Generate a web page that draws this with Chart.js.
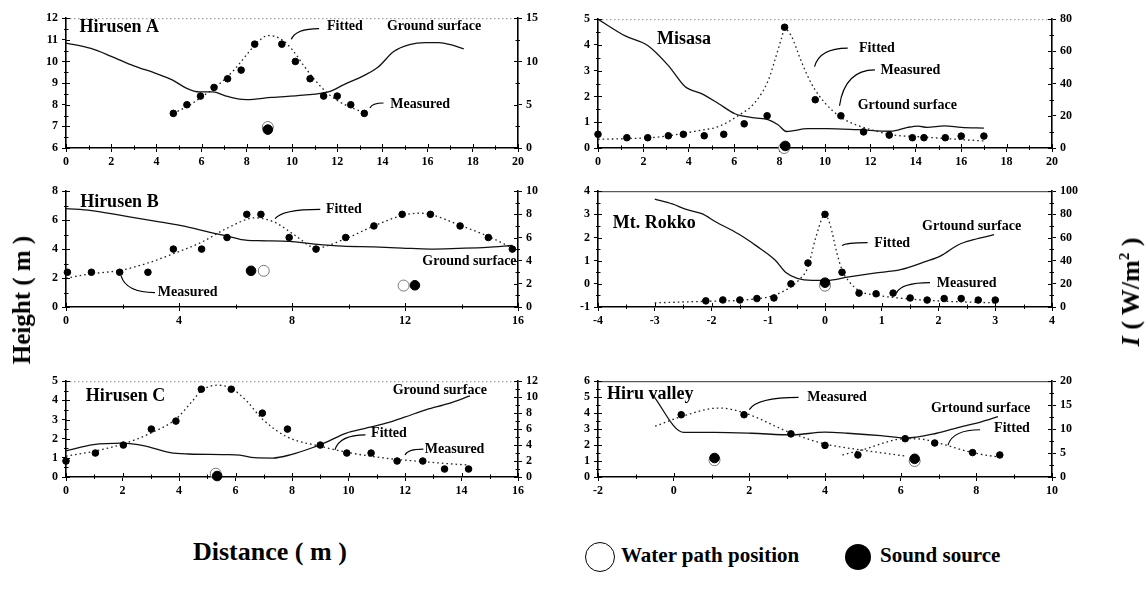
<!DOCTYPE html>
<html><head><meta charset="utf-8">
<script src="https://cdn.jsdelivr.net/npm/chart.js@4"></script>
<style>
body{margin:0;width:1148px;height:590px;background:#fff;position:relative;overflow:hidden;font-family:"Liberation Serif","DejaVu Serif",serif;font-weight:bold;color:#000;}
canvas{position:absolute;}
.t{position:absolute;white-space:nowrap;font-weight:bold;}
.rot{transform-origin:center center;transform:translate(-50%,-50%) rotate(-90deg);}
.circ{position:absolute;border-radius:50%;box-sizing:border-box;}
</style></head><body>
<canvas id="cA"></canvas><canvas id="cB"></canvas><canvas id="cC"></canvas>
<canvas id="cM"></canvas><canvas id="cR"></canvas><canvas id="cH"></canvas>

<div class="t rot" style="left:22px;top:300px;font-size:25px;">Height ( m )</div>
<div class="t rot" style="left:1131px;top:292px;font-size:26px;"><i>I</i> ( W/m<sup style="font-size:15px">2</sup> )</div>
<div class="t" style="left:193px;top:537px;font-size:26px;">Distance ( m )</div>
<div class="circ" style="left:585px;top:542px;width:30px;height:30px;border:1.5px solid #000;"></div>
<div class="t" style="left:621px;top:543px;font-size:21px;">Water path position</div>
<div class="circ" style="left:845px;top:544px;width:26px;height:26px;background:#000;"></div>
<div class="t" style="left:880px;top:543px;font-size:21px;">Sound source</div>

<script>
// ---------------- DATA ----------------
// Hirusen A
const hirusenA_ground = [[0,10.85],[1.1,10.6],[2,10.24],[3,9.8],[4,9.44],[4.7,9.15],[5.3,8.78],[5.9,8.59],[6.5,8.59],[7.05,8.41],[7.6,8.27],[8,8.24],[9.1,8.34],[10.5,8.44],[11.6,8.59],[12.3,8.93],[13.2,9.36],[13.8,9.73],[14.5,10.46],[15.2,10.78],[15.9,10.87],[16.5,10.87],[17.1,10.75],[17.6,10.58]];
const hirusenA_measured = [[4.75,4],[5.35,5],[5.95,6],[6.55,7],[7.15,8],[7.75,9],[8.35,12],[9.55,12],[10.15,10],[10.8,8],[11.4,6],[12,6],[12.6,5],[13.2,4]];
const hirusenA_fitted = [[4.75,4.0],[5.5,5.0],[6.0,5.9],[6.5,6.8],[7.0,7.9],[7.5,9.2],[8.0,10.8],[8.5,12.3],[8.95,13.0],[9.5,12.6],[10.0,11.4],[10.5,9.6],[11.0,7.9],[11.5,6.5],[12.0,5.5],[12.5,4.8],[13.2,4.1]];
const hirusenA_source = [[8.93,6.85]];
const hirusenA_water = [[8.93,6.97]];
// Hirusen B
const hirusenB_ground = [[0,6.8],[0.9,6.66],[2,6.31],[3.2,5.92],[4.4,5.49],[5.25,5.09],[5.7,4.9],[6.2,4.66],[6.8,4.58],[7.9,4.54],[8.8,4.35],[9.8,4.2],[10.9,4.15],[11.9,4.07],[12.9,4.0],[13.9,4.05],[14.9,4.12],[15.8,4.25]];
const hirusenB_measured = [[0.05,3],[0.9,3],[1.9,3],[2.9,3],[3.8,5],[4.8,5],[5.7,6],[6.4,8],[6.9,8],[7.9,6],[8.85,5],[9.9,6],[10.9,7],[11.9,8],[12.9,8],[13.95,7],[14.95,6],[15.8,5]];
const hirusenB_fitted = [[0,2.5],[1,2.9],[1.9,3.15],[2.9,3.8],[3.8,4.6],[4.8,5.6],[5.7,6.8],[6.7,7.7],[7.4,7.3],[8.1,6.2],[8.85,5.1],[9.8,5.8],[10.9,7.0],[11.9,7.9],[12.5,8.1],[12.9,8.0],[13.9,7.1],[14.95,6.1],[15.8,5.1]];
const hirusenB_source = [[6.55,2.5],[12.35,1.5]];
const hirusenB_water = [[7.0,2.5],[11.95,1.48]];
// Hirusen C
const hirusenC_ground = [[0,1.36],[0.97,1.69],[2.0,1.77],[2.78,1.63],[3.69,1.27],[4.34,1.2],[5.63,1.17],[6.15,1.14],[6.67,1.01],[7.32,0.99],[7.97,1.17],[8.74,1.54],[9.26,1.85],[9.9,2.28],[10.56,2.53],[11.33,2.81],[11.98,3.12],[12.76,3.52],[13.53,3.83],[14.3,4.23]];
const hirusenC_measured = [[0,2],[1.04,3],[2.03,4],[3.02,6],[3.89,7],[4.79,11],[5.85,11],[6.95,8],[7.84,6],[9.0,4],[9.94,3],[10.8,3],[11.72,2],[12.63,2],[13.4,1],[14.25,1]];
const hirusenC_fitted = [[0,2.6],[1.04,3.26],[2.03,4.15],[3.0,5.5],[3.89,7.26],[4.47,9.5],[4.79,10.8],[5.37,11.5],[5.85,11.1],[6.4,9.5],[6.95,7.26],[7.84,5.0],[9.0,3.85],[9.94,3.1],[10.8,2.6],[11.72,2.2],[12.63,1.93],[13.4,1.7],[14.25,1.5]];
const hirusenC_source = [[5.35,0.05]];
const hirusenC_water = [[5.3,0.17]];
// Misasa
const misasa_ground = [[0,5.0],[1.2,4.35],[2.19,3.98],[3.1,3.2],[3.83,2.39],[4.56,2.11],[5.3,1.73],[6.03,1.33],[6.9,1.17],[7.49,1.1],[7.93,0.9],[8.3,0.64],[9.25,0.75],[10.1,0.75],[11.44,0.71],[12.9,0.65],[13.64,0.8],[14.1,0.85],[14.5,0.8],[15.25,0.86],[16.0,0.8],[17.0,0.77]];
const misasa_measured = [[0,8.5],[1.27,6.4],[2.19,6.4],[3.1,7.6],[3.76,8.5],[4.68,7.6],[5.54,8.5],[6.44,15],[7.45,20],[8.22,75],[9.57,30],[10.7,20],[11.7,10],[12.83,8],[13.85,6.4],[14.36,6.4],[15.3,6.4],[16.0,7.4],[17.0,7.4]];
const misasa_fitted = [[0,5.4],[1.2,5.8],[2.66,6.8],[4.4,10.7],[5.3,13.3],[6.2,20.3],[6.9,28],[7.5,42],[7.78,54],[8.08,68],[8.22,74],[8.5,70],[8.95,54],[9.4,40],[10,28],[10.7,19],[11.44,14],[12.2,10.7],[12.9,8.3],[14.36,6.8],[15.8,5.4],[17,4.4]];
const misasa_source = [[8.25,0.08]];
const misasa_water = [[8.2,0.0]];
// Mt. Rokko
const rokko_ground = [[-3.0,3.66],[-2.69,3.45],[-2.43,3.2],[-2.17,3.03],[-1.92,2.67],[-1.53,2.16],[-1.21,1.64],[-0.88,1.03],[-0.69,0.49],[-0.49,0.24],[-0.23,0.15],[0.03,0.15],[0.42,0.3],[0.87,0.46],[1.33,0.61],[1.78,0.97],[2.04,1.21],[2.36,1.7],[2.62,1.91],[2.98,2.12]];
const rokko_measured = [[-2.1,5.3],[-1.8,6.1],[-1.5,6.1],[-1.2,7.3],[-0.9,7.8],[-0.6,20],[-0.3,38],[0,80],[0.3,30],[0.6,12],[0.9,11.4],[1.2,12],[1.5,7.8],[1.8,6],[2.1,7.3],[2.4,7.3],[2.7,6],[3.0,6]];
const rokko_fitted = [[-3.0,3.6],[-2.1,4.9],[-1.5,5.8],[-0.9,10],[-0.6,17.5],[-0.43,24.8],[-0.3,34.5],[-0.17,58.7],[-0.04,78],[0,80],[0.09,71],[0.21,46.6],[0.3,32],[0.42,22.3],[0.61,13.8],[0.91,10.2],[1.19,8.3],[1.97,5.3],[2.98,3.6]];
const rokko_source = [[0,0.05]];
const rokko_water = [[0,-0.08]];
// Hiru valley
const hiru_ground = [[-0.57,5.19],[0.27,2.79],[1.08,2.79],[2.06,2.74],[3.13,2.64],[4.0,2.81],[4.6,2.74],[5.48,2.59],[6.12,2.44],[6.95,2.74],[7.54,3.11],[8.13,3.45],[8.57,3.78]];
const hiru_measured = [[0.2,13],[1.86,13],[3.1,9],[4.0,6.6],[4.87,4.6],[6.12,8],[6.9,7.1],[7.9,5.1],[8.62,4.6]];
const hiru_fitted1 = [[-0.49,10.6],[0.2,12.6],[1.2,14.4],[1.86,13.4],[3.1,9.2],[4.0,6.9],[5.0,5.6],[6.1,4.4]];
const hiru_fitted2 = [[4.46,4.6],[5.0,5.7],[6.12,8.0],[6.56,7.9],[6.95,7.2],[7.9,5.1],[8.62,4.1]];
const hiru_source = [[1.08,1.19],[6.37,1.14]];
const hiru_water = [[1.08,1.05],[6.37,1.0]];

// axis ranges / tick steps [min,max,step]
const axA = {x:[0,20,2], y:[6,12,1], r:[0,15,5]};
const axB = {x:[0,16,4], y:[0,8,2], r:[0,10,2]};
const axC = {x:[0,16,2], y:[0,5,1], r:[0,12,2]};
const axM = {x:[0,20,2], y:[0,5,1], r:[0,80,20]};
const axR = {x:[-4,4,1], y:[-1,4,1], r:[0,100,20]};
const axH = {x:[-2,10,2], y:[0,6,1], r:[0,20,5]};

// ---------------- RENDER ----------------
const FONT = '"Liberation Serif", serif';
const pts = a => a.map(p => ({x:p[0], y:p[1]}));

const annotPlugin = {
  id:'annot',
  afterDatasetsDraw(chart, args, opts){
    const {ctx, chartArea:a, scales} = chart;
    const X = v => scales.x.getPixelForValue(v), Y = v => scales.y.getPixelForValue(v);
    ctx.save();
    // top border
    if (opts.top !== 'none') {
      ctx.lineWidth = 1;
      if (opts.top === 'solid') { ctx.strokeStyle = '#333'; ctx.setLineDash([]); }
      else { ctx.strokeStyle = '#8a8a8a'; ctx.setLineDash([1.5,2.5]); }
      ctx.beginPath(); ctx.moveTo(a.left, a.top+0.5); ctx.lineTo(a.right, a.top+0.5); ctx.stroke();
      ctx.setLineDash([]);
    }
    // inward tick parts and minor ticks
    ctx.strokeStyle = '#000'; ctx.lineWidth = 1;
    const tickSet = (sc, horiz, base, dir) => {
      const st = sc.options.ticks.stepSize, mn = sc.min, mx = sc.max;
      for (let v = mn; v <= mx + 1e-9; v += st/2) {
        const major = Math.abs(((v - mn) / st) - Math.round((v - mn) / st)) < 1e-6;
        const len = major ? 4 : 2.5;
        const p = Math.round(sc.getPixelForValue(v)) + 0.5;
        ctx.beginPath();
        if (horiz) { ctx.moveTo(p, base); ctx.lineTo(p, base + dir*len); if(!major){ctx.moveTo(p, base); ctx.lineTo(p, base - dir*2);} }
        else { ctx.moveTo(base, p); ctx.lineTo(base + dir*len, p); if(!major){ctx.moveTo(base, p); ctx.lineTo(base - dir*2, p);} }
        ctx.stroke();
      }
    };
    tickSet(scales.x, true, a.bottom, -1);
    tickSet(scales.y, false, a.left, 1);
    tickSet(scales.y2, false, a.right, -1);
    // leaders
    ctx.strokeStyle = '#000'; ctx.lineWidth = 1.2;
    (opts.leaders||[]).forEach(L => {
      const x0=X(L[0]), y0=Y(L[1]), x1=X(L[2]), y1=Y(L[3]);
      ctx.beginPath(); ctx.moveTo(x0,y0);
      ctx.quadraticCurveTo(x0+(x1-x0)*0.15, y1, x1, y1); ctx.stroke();
    });
    ctx.fillStyle = '#000'; ctx.textBaseline = 'middle';
    (opts.texts||[]).forEach(T => {
      ctx.font = 'bold ' + T.s + 'px ' + FONT;
      ctx.textAlign = T.a || 'left';
      ctx.fillText(T.t, X(T.x), Y(T.y));
    });
    ctx.restore();
  }
};

function axis(pos, r, w, isX){
  return {
    type:'linear', position:pos, min:r[0], max:r[1],
    ticks:{stepSize:r[2], autoSkip:false, maxRotation:0, color:'#000', padding: isX?3:4,
      font:{family:FONT, size:12, weight:'bold'}},
    grid:{display:true, drawOnChartArea:false, drawTicks:true, tickLength:4, color:'#000', lineWidth:1},
    border:{display:true, color:'#000', width:1.6},
    afterFit: s => { if(isX) s.height = w; else s.width = w; }
  };
}

function panel(id, left, plotTop, plotH, lw, rw, ax, d, texts, leaders, top){
  const W = 560, padT = 8, bot = 24;
  const cv = document.getElementById(id);
  cv.width = W; cv.height = padT + plotH + bot;
  cv.style.left = left + 'px'; cv.style.top = (plotTop - padT) + 'px';
  const ds = [];
  ds.push({data:pts(d.source), yAxisID:'y', pointRadius:4.8, pointBackgroundColor:'#000', pointBorderColor:'#000', showLine:false, clip:false});
  ds.push({data:pts(d.water), yAxisID:'y', pointRadius:5.5, pointBackgroundColor:'#fff', pointBorderColor:'#777', pointBorderWidth:1, showLine:false, clip:false});
  ds.push({data:pts(d.measured), yAxisID:'y2', pointRadius:3.3, pointBackgroundColor:'#000', pointBorderColor:'#000', showLine:false, clip:false});
  d.fitted.forEach(f => ds.push({data:pts(f), yAxisID:'y2', pointRadius:0, showLine:true, borderColor:'#222', borderWidth:1.3, borderDash:[1.6,3], cubicInterpolationMode:'monotone'}));
  ds.push({data:pts(d.ground), yAxisID:'y', pointRadius:0, showLine:true, borderColor:'#111', borderWidth:1.3, cubicInterpolationMode:'monotone'});
  new Chart(cv, {
    type:'scatter',
    data:{datasets:ds},
    options:{
      responsive:false, animation:false, devicePixelRatio:1,
      layout:{padding:{top:padT, left:0, right:0, bottom:0}},
      plugins:{legend:{display:false}, tooltip:{enabled:false}, annot:{texts, leaders, top}},
      scales:{ x:axis('bottom', ax.x, bot, true), y:axis('left', ax.y, lw, false), y2:axis('right', ax.r, rw, false) }
    },
    plugins:[annotPlugin]
  });
}

panel('cA', 0, 15, 133, 66, 42, axA,
  {ground:hirusenA_ground, measured:hirusenA_measured, fitted:[hirusenA_fitted], source:hirusenA_source, water:hirusenA_water},
  [{t:'Hirusen A', x:0.6, y:11.6, s:18},{t:'Fitted', x:11.55, y:11.63, s:14},{t:'Ground surface', x:14.2, y:11.63, s:14},{t:'Measured', x:14.35, y:8.0, s:14}],
  [[9.97,11.02,11.2,11.52],[13.45,7.85,14.05,8.08]], 'dot');

panel('cB', 0, 188, 119, 66, 42, axB,
  {ground:hirusenB_ground, measured:hirusenB_measured, fitted:[hirusenB_fitted], source:hirusenB_source, water:hirusenB_water},
  [{t:'Hirusen B', x:0.5, y:7.25, s:18},{t:'Fitted', x:9.2, y:6.75, s:14},{t:'Ground surface', x:15.95, y:3.15, s:14, a:'right'},{t:'Measured', x:3.25, y:1.0, s:14}],
  [[7.4,6.1,9.0,6.75],[1.95,2.15,3.15,1.0]], 'none');

panel('cC', 0, 378, 99, 66, 42, axC,
  {ground:hirusenC_ground, measured:hirusenC_measured, fitted:[hirusenC_fitted], source:hirusenC_source, water:hirusenC_water},
  [{t:'Hirusen C', x:0.7, y:4.2, s:18},{t:'Ground surface', x:14.9, y:4.5, s:14, a:'right'},{t:'Fitted', x:10.8, y:2.28, s:14},{t:'Measured', x:12.7, y:1.42, s:14}],
  [[9.52,1.42,10.6,2.2],[12.0,1.15,12.65,1.45]], 'dot');

panel('cM', 560, 16, 132, 38, 68, axM,
  {ground:misasa_ground, measured:misasa_measured, fitted:[misasa_fitted], source:misasa_source, water:misasa_water},
  [{t:'Misasa', x:2.6, y:4.23, s:18},{t:'Fitted', x:11.5, y:3.88, s:14},{t:'Measured', x:12.45, y:3.03, s:14},{t:'Grtound surface', x:11.44, y:1.67, s:14}],
  [[9.54,3.16,11.0,3.88],[10.64,1.64,12.2,3.03]], 'dot');

panel('cR', 560, 188, 119, 38, 68, axR,
  {ground:rokko_ground, measured:rokko_measured, fitted:[rokko_fitted], source:rokko_source, water:rokko_water},
  [{t:'Mt. Rokko', x:-3.74, y:2.6, s:18},{t:'Grtound surface', x:1.71, y:2.48, s:14},{t:'Fitted', x:0.87, y:1.75, s:14},{t:'Measured', x:1.97, y:0.0, s:14}],
  [[0.3,1.65,0.75,1.78],[1.26,-0.39,1.85,0.05]], 'solid');

panel('cH', 560, 378, 99, 38, 68, axH,
  {ground:hiru_ground, measured:hiru_measured, fitted:[hiru_fitted1, hiru_fitted2], source:hiru_source, water:hiru_water},
  [{t:'Hiru valley', x:-1.76, y:5.2, s:18},{t:'Measured', x:3.53, y:4.96, s:14},{t:'Grtound surface', x:6.8, y:4.3, s:14},{t:'Fitted', x:8.47, y:3.04, s:14}],
  [[2.0,4.22,3.3,4.99],[7.25,2.0,8.1,2.96]], 'solid');
</script>
</body></html>
